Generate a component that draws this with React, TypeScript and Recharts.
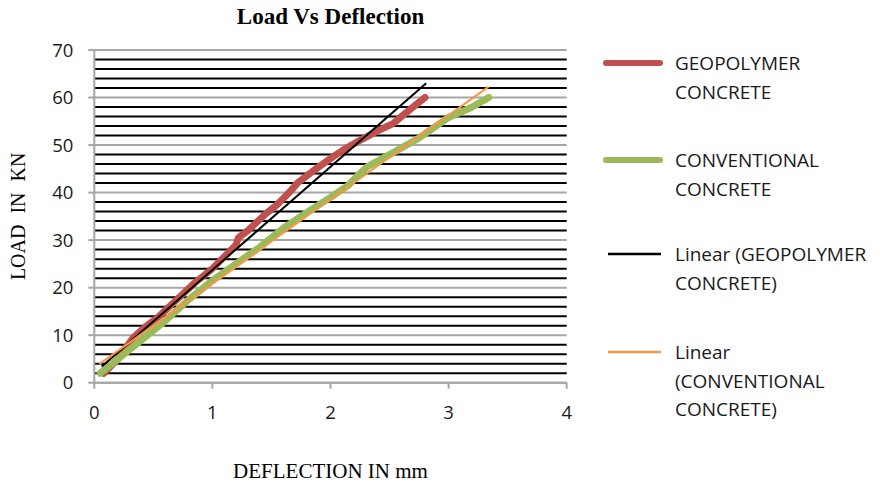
import React from 'react';
import { LineChart, Line, XAxis, YAxis, CartesianGrid, Legend } from 'recharts';

// Geopolymer concrete: deflection (mm) and load (kN)
const geoDeflection = [0.08, 0.2, 0.33, 0.42, 0.55, 0.7, 0.85, 1.0, 1.12, 1.2, 1.22, 1.3, 1.45, 1.55, 1.65, 1.72, 1.85, 2.02, 2.11, 2.25, 2.4, 2.53, 2.6, 2.7, 2.8];
const geoLoad = [2, 5, 9.5, 11.5, 14, 17.5, 21, 24, 27, 29, 30.5, 32, 35.5, 37.5, 40, 42, 44.5, 47.5, 49, 51, 53, 54.5, 56, 58, 60];

// Conventional concrete
const convDeflection = [0.05, 0.2, 0.4, 0.6, 0.8, 1.0, 1.2, 1.4, 1.6, 1.83, 2.0, 2.15, 2.22, 2.31, 2.5, 2.75, 3.0, 3.2, 3.34];
const convLoad = [2, 5, 9, 13, 17.5, 21.5, 25, 28.5, 32.5, 36.3, 39, 41.5, 43.3, 45.4, 48, 51.5, 55.8, 58, 60];

// Linear trend lines (end points)
const geoTrendDeflection = [0.063, 2.81];
const geoTrendLoad = [3.4, 63];
const convTrendDeflection = [0.042, 3.34];
const convTrendLoad = [3.9, 62.3];

const xTicks = [0, 1, 2, 3, 4];
const yTicks = [0, 10, 20, 30, 40, 50, 60, 70];
const minorLoads = [2, 4, 6, 8, 12, 14, 16, 18, 22, 24, 26, 28, 32, 34, 36, 38, 42, 44, 46, 48, 52, 54, 56, 58, 62, 64, 66, 68];

const seriesNames = ['GEOPOLYMER CONCRETE', 'CONVENTIONAL CONCRETE', 'Linear (GEOPOLYMER CONCRETE)', 'Linear (CONVENTIONAL CONCRETE)'];
const legendLines = [
  ['GEOPOLYMER', 'CONCRETE'],
  ['CONVENTIONAL', 'CONCRETE'],
  ['Linear (GEOPOLYMER', 'CONCRETE)'],
  ['Linear', '(CONVENTIONAL', 'CONCRETE)'],
];
const colors = ['#C0504D', '#9BBB59', '#000000', '#F79646'];
const widths = [7, 7, 2, 2];

const zip = (xs: number[], ys: number[]) => xs.map((x, i) => ({ x, y: ys[i] }));
const geoData = zip(geoDeflection, geoLoad);
const convData = zip(convDeflection, convLoad);
const geoTrend = zip(geoTrendDeflection, geoTrendLoad);
const convTrend = zip(convTrendDeflection, convTrendLoad);

const legendTops = [63, 160, 254, 352];

const renderLegend = () => (
  <div style={{ position: 'relative', width: 283, height: 420 }}>
    {legendLines.map((lines, i) => (
      <div key={i} style={{ position: 'absolute', left: 0, top: legendTops[i] - 45 - 14, height: 28 * lines.length }}>
        <svg width={70} height={28} style={{ position: 'absolute', left: 0, top: 0 }}>
          <line x1={i < 2 ? 9 : 11} x2={i < 2 ? 63 : 64} y1={14} y2={14} stroke={colors[i]} strokeWidth={i < 2 ? 6 : 2.5} strokeLinecap={i < 2 ? 'round' : 'butt'} />
        </svg>
        <div style={{ position: 'absolute', left: 78, top: 0, whiteSpace: 'nowrap', fontFamily: '"Open Sans", sans-serif', fontSize: 19, lineHeight: '28.5px', color: '#1a1a1a' }}>
          {lines.map((t, j) => (<div key={j}>{t}</div>))}
        </div>
      </div>
    ))}
  </div>
);

const tickStyle = { fontFamily: '"Open Sans", sans-serif', fontSize: 18.5, fill: '#1a1a1a' };

const applyScale = (scale: any, v: number): number => {
  if (typeof scale === 'function') return scale(v);
  if (scale && typeof scale.map === 'function') return scale.map(v);
  return 0;
};

const minorGen = (props: any) => minorLoads.map((v) => applyScale(props.yAxis.scale, v));
const majorGen = (props: any) => yTicks.map((v) => applyScale(props.yAxis.scale, v));

export default function App() {
  return (
    <div style={{ position: 'absolute', left: 0, top: 0, width: 880, height: 487, background: '#fff' }}>
      <div style={{ position: 'absolute', left: 0, top: 4, width: 661, textAlign: 'center', fontFamily: '"Liberation Serif", serif', fontWeight: 'bold', fontSize: 23, color: '#000' }}>
        Load Vs Deflection
      </div>
      <LineChart width={880} height={487} margin={{ top: 50, right: 313.3, bottom: 74.3, left: 0 }}>
        <CartesianGrid vertical={false} horizontalCoordinatesGenerator={minorGen} stroke="#000" strokeWidth={2} />
        <CartesianGrid vertical={false} horizontalCoordinatesGenerator={majorGen} stroke="#a6a6a6" strokeWidth={2} />
        <XAxis
          type="number"
          dataKey="x"
          domain={[0, 4]}
          ticks={xTicks}
          allowDataOverflow
          height={30}
          tickSize={6}
          tickMargin={17}
          axisLine={{ stroke: '#a6a6a6', strokeWidth: 2 }}
          tickLine={{ stroke: '#a6a6a6', strokeWidth: 2 }}
          tick={tickStyle}
          label={{ value: 'DEFLECTION IN mm', position: 'bottom', offset: 50, style: { fontFamily: '"Liberation Serif", serif', fontSize: 21, fill: '#000' } }}
        />
        <YAxis
          type="number"
          dataKey="y"
          domain={[0, 70]}
          ticks={yTicks}
          allowDataOverflow
          width={94.3}
          tickSize={6}
          tickMargin={15}
          axisLine={{ stroke: '#a6a6a6', strokeWidth: 2 }}
          tickLine={{ stroke: '#a6a6a6', strokeWidth: 2 }}
          tick={tickStyle}
          label={{ value: 'LOAD  IN  KN', angle: -90, position: 'center', dx: -29, style: { fontFamily: '"Liberation Serif", serif', fontSize: 20, fill: '#000', wordSpacing: 6 } }}
        />
        <Legend layout="vertical" align="center" verticalAlign="middle" wrapperStyle={{ position: 'absolute', left: 597, top: 45, width: 283, height: 420 }} content={renderLegend} />
        <Line data={geoData} dataKey="y" name={seriesNames[0]} stroke={colors[0]} strokeWidth={widths[0]} dot={false} strokeLinecap="round" strokeLinejoin="round" isAnimationActive={false} type="linear" />
        <Line data={convData} dataKey="y" name={seriesNames[1]} stroke={colors[1]} strokeWidth={widths[1]} dot={false} strokeLinecap="round" strokeLinejoin="round" isAnimationActive={false} type="linear" />
        <Line data={geoTrend} dataKey="y" name={seriesNames[2]} stroke={colors[2]} strokeWidth={widths[2]} dot={false} isAnimationActive={false} type="linear" />
        <Line data={convTrend} dataKey="y" name={seriesNames[3]} stroke={colors[3]} strokeWidth={widths[3]} dot={false} isAnimationActive={false} type="linear" />
      </LineChart>
    </div>
  );
}
